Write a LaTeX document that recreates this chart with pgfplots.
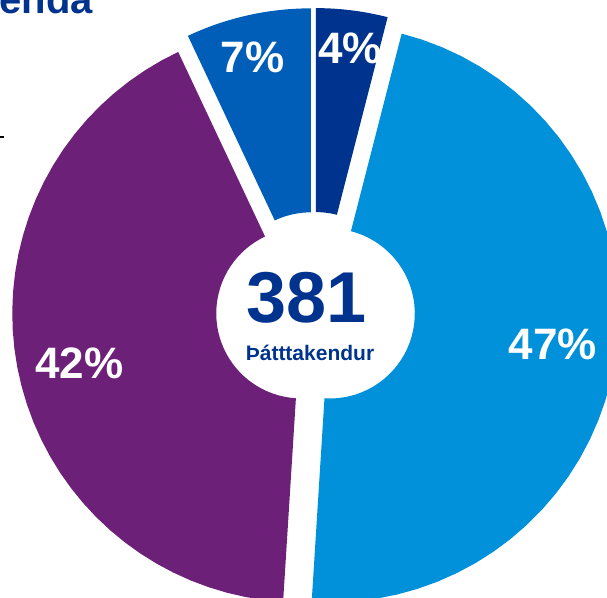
\documentclass[border=0pt]{standalone}
\usepackage{pgfplots}
\pgfplotsset{compat=1.18}
\usepackage{fontspec}
\setmainfont{Liberation Sans}
\definecolor{kNavy}{HTML}{00338D}
\definecolor{kMed}{HTML}{005EB8}
\definecolor{kLight}{HTML}{0091DA}
\definecolor{kPurple}{HTML}{6D2077}
% data (percent shares, clockwise from top)
\def\vA{4}\def\vB{47}\def\vC{42}\def\vD{7}
% geometry (pixels)
\def\Cx{314}\def\Cy{311}\def\R{289}\def\r{85}\def\D{14}
\pgfmathsetmacro\aA{0}
\pgfmathsetmacro\aB{\aA+3.6*\vA}
\pgfmathsetmacro\aC{\aB+3.6*\vB}
\pgfmathsetmacro\aD{\aC+3.6*\vC}
\pgfmathsetmacro\aE{\aD+3.6*\vD}
\newcommand\slice[4]{%
  \pgfmathsetmacro\sm{(#2+#3)/2}%
  \pgfmathsetmacro\sx{\Cx+#4*sin(\sm)}%
  \pgfmathsetmacro\sy{\Cy-#4*cos(\sm)}%
  \edef\next{\noexpand\addplot[fill=#1,draw=none,samples at={0,1,...,80},variable=\noexpand\t]
    ({\sx+ifthenelse(\noexpand\t<=40,\R,\r)*sin(ifthenelse(\noexpand\t<=40,#2+(#3-#2)*\noexpand\t/40,#3-(#3-#2)*(\noexpand\t-41)/39))},
     {\sy-ifthenelse(\noexpand\t<=40,\R,\r)*cos(ifthenelse(\noexpand\t<=40,#2+(#3-#2)*\noexpand\t/40,#3-(#3-#2)*(\noexpand\t-41)/39))});}%
  \next}
\begin{document}
\begin{tikzpicture}
\begin{axis}[name=ax, hide axis, scale only axis, width=607pt, height=597pt,
  xmin=0, xmax=607, ymin=0, ymax=597, y dir=reverse, clip=true]
\slice{kNavy}{\aA}{\aB}{14}
\slice{kLight}{\aB}{\aC}{16}
\slice{kPurple}{\aC}{\aD}{13}
\slice{kMed}{\aD}{\aE}{14}
\addplot[black, line width=1.2pt] coordinates {(0,137) (4,137)};
\node[text=white, font=\bfseries\fontsize{44}{44}\selectfont, anchor=base] at (axis cs:350,63) {4\%};
\node[text=white, font=\bfseries\fontsize{44}{44}\selectfont, anchor=base] at (axis cs:252.5,72) {7\%};
\node[text=white, font=\bfseries\fontsize{44}{44}\selectfont, anchor=base] at (axis cs:553,359) {47\%};
\node[text=white, font=\bfseries\fontsize{44}{44}\selectfont, anchor=base] at (axis cs:79.5,378) {42\%};
\node[text=kNavy, font=\bfseries\fontsize{72}{72}\selectfont, anchor=base] at (axis cs:306.5,322) {381};
\node[text=kNavy, font=\bfseries\fontsize{21}{21}\selectfont, anchor=base] at (axis cs:310,360) {Þátttakendur};
\node[text=kNavy, font=\bfseries\fontsize{40}{40}\selectfont, anchor=base east, inner sep=0pt] at (axis cs:93,13) {enda};
\end{axis}
\pgfresetboundingbox
\path[use as bounding box] (ax.south west) rectangle (ax.north east);
\end{tikzpicture}
\end{document}
